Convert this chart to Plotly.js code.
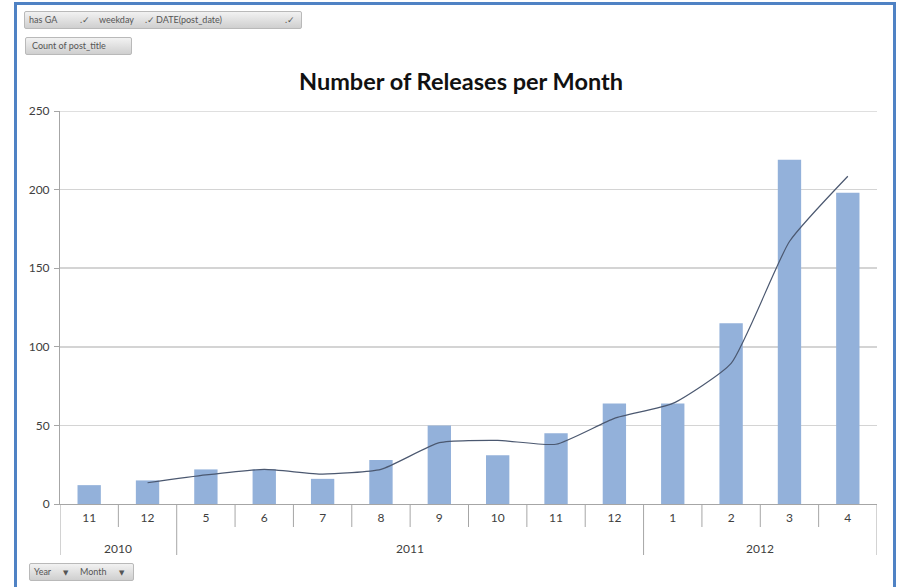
<!DOCTYPE html>
<html>
<head>
<meta charset="utf-8">
<script src="https://cdn.plot.ly/plotly-3.0.1.min.js"></script>
<style>
  body { margin: 0; background: #ffffff; }
  #wrap { position: relative; width: 898px; height: 587px; overflow: hidden; }
  #chart { position: absolute; left: 0; top: 0; width: 898px; height: 587px; }
  #frame { position: absolute; left: 14px; top: 2px; width: 876px; height: 582px;
           border: 3px solid #4f82c4; border-bottom-color: #c8c8c8; pointer-events: none; }
  .btn { position: absolute; height: 16px; line-height: 16px; font-family: Lato, "DejaVu Sans", sans-serif;
         font-size: 9px; color: #555; background: linear-gradient(#f2f2f2, #cfcfcf);
         border: 1px solid #b9b9b9; border-radius: 2px; white-space: nowrap; }
  .btn span { position: absolute; top: 0; }
  .btn span.ar { font-size: 7px; }
</style>
</head>
<body>
<div id="wrap">
  <div id="chart"></div>
  <div id="frame"></div>
  <div class="btn" style="left:24px; top:11px; width:276px;">
    <span style="left:4px;">has GA</span><span style="left:55px;">.&#10003;</span>
    <span style="left:74px;">weekday</span><span style="left:120px;">.&#10003;</span>
    <span style="left:131px;">DATE(post_date)</span><span style="left:260px;">.&#10003;</span>
  </div>
  <div class="btn" style="left:25px; top:37px; width:105px;">
    <span style="left:6px;">Count of post_title</span>
  </div>
  <div class="btn" style="left:29px; top:563px; width:103px;">
    <span style="left:4px;">Year</span><span class="ar" style="left:33px;">&#9660;</span>
    <span style="left:50px;">Month</span><span class="ar" style="left:89px;">&#9660;</span>
  </div>
</div>
<script>
const years  = ['2010','2010','2011','2011','2011','2011','2011','2011','2011','2011','2012','2012','2012','2012'];
const months = ['11','12','5','6','7','8','9','10','11','12','1','2','3','4'];
const counts = [12, 15, 22, 22, 16, 28, 50, 31, 45, 64, 64, 115, 219, 198];
const trend  = [null, 13.5, 18.5, 22, 19, 22, 39, 40.5, 38, 54.5, 64, 89.5, 167, 208.5];
const yTicks = [0, 50, 100, 150, 200, 250];

const font = 'Lato, "DejaVu Sans", sans-serif';
const idx = months.map((m, i) => i);

// axis decorations: month separators, year separators and year labels
const PLOT_H = 393;
const monthSepY = -23 / PLOT_H;
const yearSepY = -51 / PLOT_H;
const yearLabelY = -44 / PLOT_H;
const sepColor = '#a6a6a6';

const shapes = [];
const annotations = [];
for (let i = 0; i <= months.length; i++) {
  const isYearBoundary = i === 0 || i === months.length || years[i] !== years[i - 1];
  shapes.push({
    type: 'line', xref: 'x', yref: 'paper',
    x0: i - 0.5, x1: i - 0.5, y0: 0, y1: isYearBoundary ? yearSepY : monthSepY,
    line: { color: sepColor, width: 1 }
  });
}
// top gridline (at the edge of the range)
shapes.push({
  type: 'line', xref: 'paper', yref: 'y', x0: 0, x1: 1,
  y0: yTicks[yTicks.length - 1], y1: yTicks[yTicks.length - 1],
  line: { color: '#d4d4d4', width: 1.5 }
});
const uniqYears = [...new Set(years)];
uniqYears.forEach(y => {
  const first = years.indexOf(y), last = years.lastIndexOf(y);
  annotations.push({
    xref: 'x', yref: 'paper', x: (first + last) / 2, y: yearLabelY,
    text: y, showarrow: false, yanchor: 'middle',
    font: { family: font, size: 12, color: '#404040' }
  });
});

const data = [
  {
    type: 'bar',
    x: idx,
    y: counts,
    marker: { color: '#93b1da' },
    width: 0.4,
    hoverinfo: 'y'
  },
  {
    type: 'scatter',
    mode: 'lines',
    x: idx,
    y: trend,
    line: { color: '#4b5870', width: 1.2, shape: 'spline', smoothing: 0.5 },
    connectgaps: false,
    hoverinfo: 'y'
  }
];

const layout = {
  width: 898,
  height: 587,
  margin: { l: 60, r: 21, t: 111, b: 83 },
  paper_bgcolor: '#ffffff',
  plot_bgcolor: '#ffffff',
  showlegend: false,
  font: { family: font, size: 12, color: '#404040' },
  title: {
    text: '<b>Number of Releases per Month</b>',
    font: { family: font, size: 23.5, color: '#111111' },
    x: 461 / 898, xanchor: 'center',
    y: 1 - 82 / 587, yanchor: 'middle', yref: 'container'
  },
  xaxis: {
    range: [-0.5, months.length - 0.5],
    tickmode: 'array',
    tickvals: idx,
    ticktext: months,
    ticks: '',
    showline: true,
    linecolor: sepColor,
    linewidth: 1,
    showgrid: false,
    zeroline: false,
    tickfont: { family: font, size: 12, color: '#404040' },
    ticklabelstandoff: 3,
    automargin: false
  },
  yaxis: {
    range: [0, 250],
    tickvals: yTicks,
    showline: true,
    linecolor: sepColor,
    linewidth: 1,
    ticks: 'outside',
    ticklen: 5,
    tickcolor: sepColor,
    showgrid: true,
    gridcolor: '#d4d4d4',
    gridwidth: 1.5,
    zeroline: false,
    tickfont: { family: font, size: 12, color: '#404040' },
    ticklabelstandoff: 2,
    automargin: false
  },
  shapes: shapes,
  annotations: annotations
};

Plotly.newPlot('chart', data, layout, { displayModeBar: false, staticPlot: true });
</script>
</body>
</html>
